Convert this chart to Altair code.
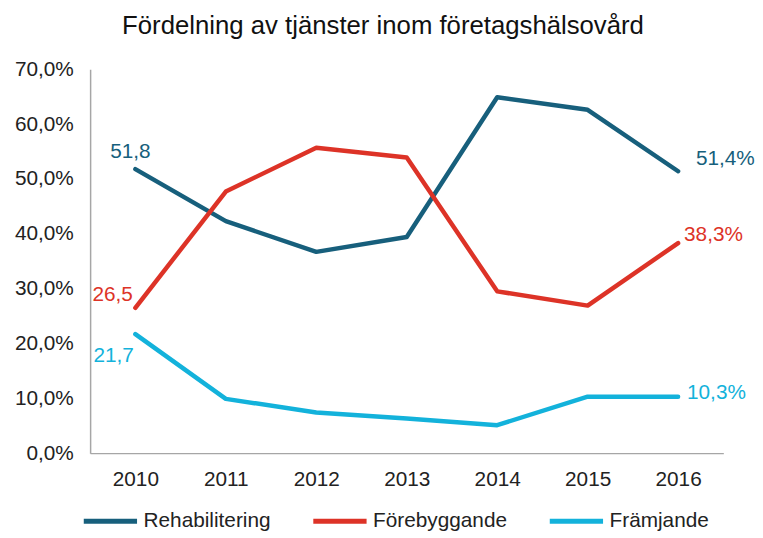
import altair as alt
import pandas as pd

years = ["2010", "2011", "2012", "2013", "2014", "2015", "2016"]
series_names = ["Rehabilitering", "Förebyggande", "Främjande"]
rehab = [51.8, 42.3, 36.7, 39.4, 64.9, 62.6, 51.4]
forebygg = [26.5, 47.7, 55.7, 53.9, 29.5, 26.9, 38.3]
framj = [21.7, 9.9, 7.4, 6.3, 5.1, 10.3, 10.3]
colors = ["#175F7C", "#DD3327", "#13B2DB"]

rows = []
for name, vals in zip(series_names, [rehab, forebygg, framj]):
    for y, v in zip(years, vals):
        rows.append({"year": y, "serie": name, "value": v})
df = pd.DataFrame(rows)

FONT = "Liberation Sans"
FS = 21
x_enc = alt.X("year:O", scale=alt.Scale(type="point", padding=0.5),
              axis=alt.Axis(title=None, labelAngle=0, ticks=False, labelPadding=16,
                            labelFontSize=FS, labelFont=FONT, labelColor="#222222",
                            domainColor="#A6A6A6", domainWidth=1.5))
y_enc = alt.Y("value:Q", scale=alt.Scale(domain=[0, 70]),
              axis=alt.Axis(title=None, values=[0, 10, 20, 30, 40, 50, 60, 70], grid=False,
                            ticks=False, labelPadding=17, labelFontSize=FS, labelFont=FONT,
                            labelColor="#222222", domainColor="#A6A6A6", domainWidth=1.5,
                            labelExpr="replace(format(datum.value, '.1f'), '.', ',') + '%'"))
color_enc = alt.Color("serie:N", sort=series_names,
                      scale=alt.Scale(domain=series_names, range=colors),
                      legend=alt.Legend(title=None, orient="none", direction="horizontal",
                                        legendX=-9, legendY=427, symbolType="stroke",
                                        symbolSize=2900, symbolStrokeWidth=5,
                                        labelFontSize=FS, labelFont=FONT, labelColor="#222222",
                                        labelOffset=4, columnPadding=32))

base = alt.Chart(df)
lines = base.mark_line(strokeWidth=4.5, strokeCap="round", strokeJoin="round").encode(
    x=x_enc, y=y_enc, color=color_enc)

# label definitions: (series index, year index, suffix, dx, dy, align)
label_specs = [
    (0, 0, "", -5, -17, "center"),
    (1, 0, "", -23, -13, "center"),
    (2, 0, "", -22, 22, "center"),
    (0, 6, "%", 18, -12, "left"),
    (1, 6, "%", 6, -8, "left"),
    (2, 6, "%", 9, -4, "left"),
]
layers = [lines]
for si, yi, suf, dx, dy, al in label_specs:
    name = series_names[si]
    yr = years[yi]
    layers.append(
        base.transform_filter((alt.datum.serie == name) & (alt.datum.year == yr))
        .transform_calculate(lab=f"replace(format(datum.value, '.1f'), '.', ',') + '{suf}'")
        .mark_text(fontSize=FS, font=FONT, dx=dx, dy=dy, align=al, baseline="middle",
                   color=colors[si])
        .encode(x=alt.X("year:O"), y=alt.Y("value:Q"), text="lab:N")
    )

chart = alt.layer(*layers).properties(
    width=640, height=388,
    title=alt.TitleParams("Fördelning av tjänster inom företagshälsovård", fontSize=26,
                          font=FONT, fontWeight="normal", color="#111111",
                          anchor="middle", offset=20, dx=-24),
    autosize=alt.AutoSizeParams(type="none"),
    padding={"left": 83, "top": 59, "right": 32, "bottom": 95},
).configure_view(stroke=None)

chart.save("out.html", embed_options={"renderer": "svg", "actions": False})
